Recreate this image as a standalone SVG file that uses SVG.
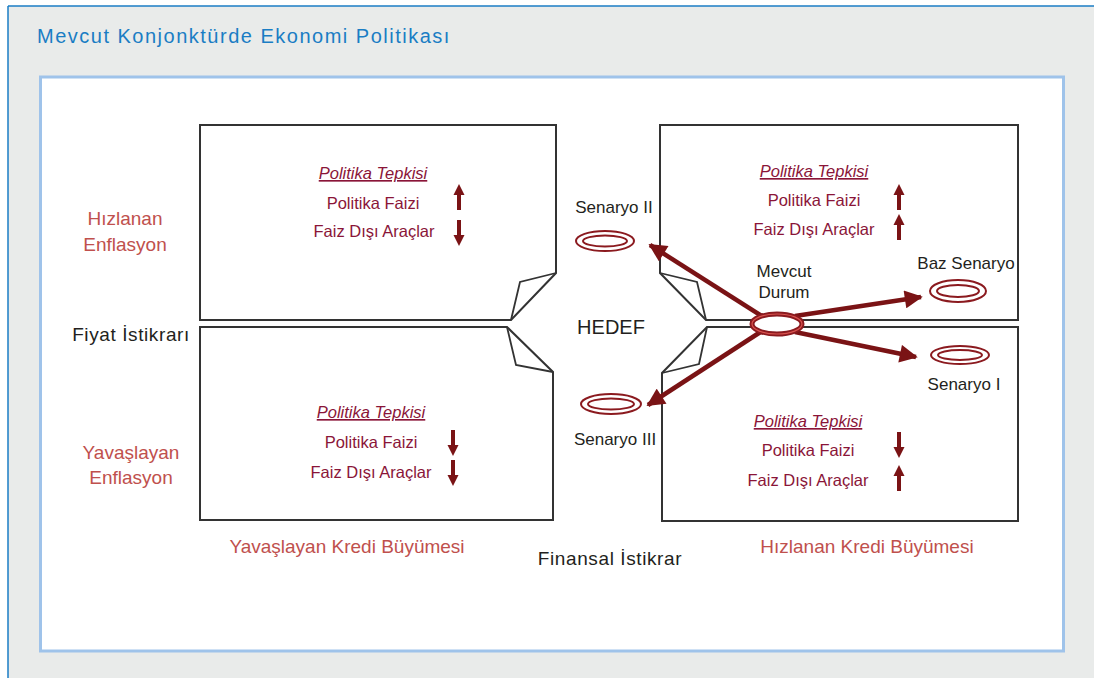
<svg xmlns="http://www.w3.org/2000/svg" width="1094" height="678" viewBox="0 0 1094 678">
<defs>
<style>
.box{fill:#fff;stroke:#333;stroke-width:2;stroke-linejoin:miter}
.flap{fill:none;stroke:#333;stroke-width:1.8}
.t{font-family:"Liberation Sans",Arial,sans-serif}
.bt{font-size:16.5px;fill:#8a1538;text-anchor:middle}
.pt{font-style:italic;text-decoration:underline}
.lbl{font-size:19px;fill:#c0504d;text-anchor:middle}
.blk{font-size:19px;fill:#231f20;text-anchor:middle;letter-spacing:0.6px}
.sc{font-size:17px;fill:#231f20;text-anchor:middle}
.ell{fill:none;stroke:#8b1a1f;stroke-width:2}
.ar{stroke:#7a1315;stroke-width:4.5;fill:none}
</style>
<marker id="ah" viewBox="0 0 10 10" refX="9" refY="5" markerWidth="4.2" markerHeight="4" orient="auto" markerUnits="strokeWidth">
<path d="M0,0 L10,5 L0,10 Z" fill="#7a1315"/>
</marker>
<g id="up"><rect x="-2" y="8" width="4" height="18" fill="#7a1315"/><path d="M-5.5,11 L0,0 L5.5,11 Z" fill="#7a1315"/></g>
<g id="dn"><rect x="-2" y="0" width="4" height="18" fill="#7a1315"/><path d="M-5.5,15 L0,26 L5.5,15 Z" fill="#7a1315"/></g>
</defs>

<rect x="0" y="0" width="1094" height="678" fill="#fff"/>
<rect x="8" y="6" width="1086" height="672" fill="#e9ebea"/>
<line x1="8" y1="6" x2="1094" y2="6" stroke="#1a7dc4" stroke-width="1.5"/>
<line x1="8" y1="6" x2="8" y2="678" stroke="#1a7dc4" stroke-width="1.5"/>
<text class="t" x="37" y="43" font-size="20" fill="#1a7dc4" letter-spacing="1.5">Mevcut Konjonktürde Ekonomi Politikası</text>
<rect x="40.5" y="77" width="1023" height="574" fill="#fff" stroke="#9fc3ea" stroke-width="3"/>

<g id="box-tl">
<path class="box" d="M200,125 H556 V273 L511,320 H200 Z"/>
<path class="flap" d="M556,273 L520,282 L511,320"/>
<text class="t bt pt" x="373" y="179">Politika Tepkisi</text>
<text class="t bt" x="373" y="209">Politika Faizi</text>
<text class="t bt" x="374" y="237">Faiz Dışı Araçlar</text>
<use href="#up" x="459" y="184"/>
<use href="#dn" x="459" y="220"/>
</g>

<g id="box-tr">
<path class="box" d="M660,125 H1018 V320 H706 L660,273 Z"/>
<path class="flap" d="M660,273 L697,282 L706,320"/>
<text class="t bt pt" x="814" y="177">Politika Tepkisi</text>
<text class="t bt" x="814" y="206">Politika Faizi</text>
<text class="t bt" x="814" y="235">Faiz Dışı Araçlar</text>
<use href="#up" x="899" y="184"/>
<use href="#up" x="899" y="214"/>
</g>

<g id="box-bl">
<path class="box" d="M200,327 H507 L553,372 V520 H200 Z"/>
<path class="flap" d="M507,327 L516,365 L553,372"/>
<text class="t bt pt" x="371" y="418">Politika Tepkisi</text>
<text class="t bt" x="371" y="448">Politika Faizi</text>
<text class="t bt" x="371" y="478">Faiz Dışı Araçlar</text>
<use href="#dn" x="453" y="430"/>
<use href="#dn" x="453" y="460"/>
</g>

<g id="box-br">
<path class="box" d="M707,327 H1018 V521 H662 V373 Z"/>
<path class="flap" d="M707,327 L699,364 L662,373"/>
<text class="t bt pt" x="808" y="427">Politika Tepkisi</text>
<text class="t bt" x="808" y="456">Politika Faizi</text>
<text class="t bt" x="808" y="486">Faiz Dışı Araçlar</text>
<use href="#dn" x="899" y="432"/>
<use href="#up" x="899" y="465"/>
</g>

<g id="labels">
<text class="t lbl" x="125" y="225">Hızlanan</text>
<text class="t lbl" x="125" y="251">Enflasyon</text>
<text class="t lbl" x="131" y="459">Yavaşlayan</text>
<text class="t lbl" x="131" y="484">Enflasyon</text>
<text class="t lbl" x="347" y="553">Yavaşlayan Kredi Büyümesi</text>
<text class="t lbl" x="867" y="553">Hızlanan Kredi Büyümesi</text>
<text class="t blk" x="131" y="341">Fiyat İstikrarı</text>
<text class="t blk" x="610" y="565">Finansal İstikrar</text>
<text class="t" x="611" y="334" font-size="20" fill="#231f20" text-anchor="middle">HEDEF</text>
</g>

<g id="senaryo2">
<ellipse class="ell" cx="605" cy="241" rx="29" ry="10"/>
<ellipse class="ell" cx="605" cy="241" rx="22" ry="5.5"/>
<text class="t sc" x="614" y="213">Senaryo II</text>
</g>
<g id="senaryo3">
<ellipse class="ell" cx="611" cy="404" rx="30" ry="10"/>
<ellipse class="ell" cx="611" cy="404" rx="23" ry="5.5"/>
<text class="t sc" x="615" y="445">Senaryo III</text>
</g>
<g id="baz">
<ellipse class="ell" cx="958" cy="291" rx="28" ry="11"/>
<ellipse class="ell" cx="958" cy="291" rx="21" ry="6"/>
<text class="t sc" x="966" y="269">Baz Senaryo</text>
</g>
<g id="senaryo1">
<ellipse class="ell" cx="960" cy="355" rx="29" ry="9"/>
<ellipse class="ell" cx="960" cy="355" rx="22" ry="5"/>
<text class="t sc" x="964" y="390">Senaryo I</text>
</g>

<g id="connectors">
<line class="ar" x1="765" y1="318" x2="650" y2="245" marker-end="url(#ah)"/>
<line class="ar" x1="762" y1="331" x2="648" y2="405" marker-end="url(#ah)"/>
<line class="ar" x1="795" y1="316" x2="921" y2="297" marker-end="url(#ah)"/>
<line class="ar" x1="795" y1="332" x2="916" y2="357" marker-end="url(#ah)"/>
</g>

<g id="mevcut">
<ellipse cx="777" cy="324" rx="25" ry="10" fill="#fff" stroke="#8b1a1f" stroke-width="5"/>
<ellipse cx="777" cy="324" rx="25" ry="10" fill="none" stroke="#d9534f" stroke-width="1.2"/>
<text class="t sc" x="784" y="277">Mevcut</text>
<text class="t sc" x="784" y="298">Durum</text>
</g>
</svg>
